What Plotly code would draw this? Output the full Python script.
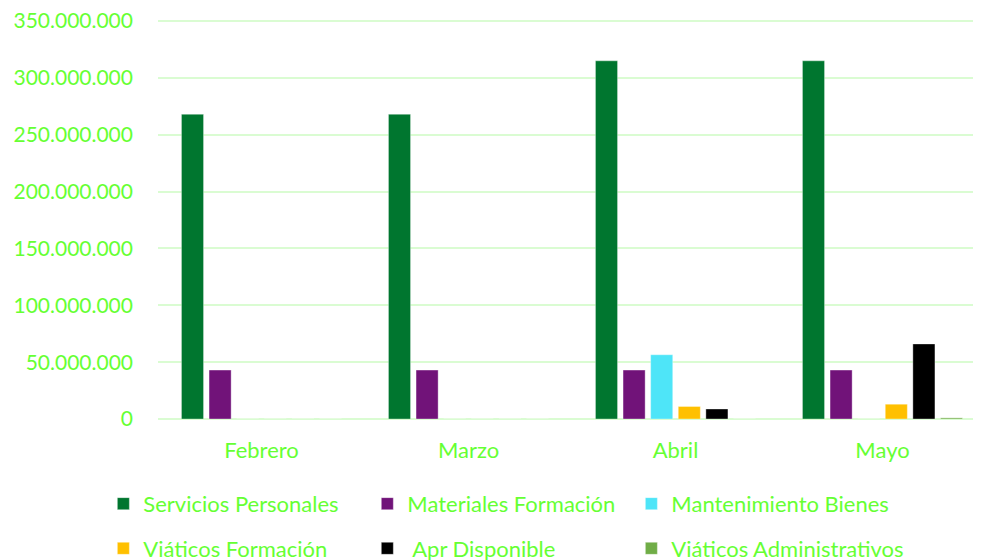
# Purpose: Grouped bar chart of monthly budget execution by category

# Imports

# Third party libraries
import plotly.graph_objects as go

# Globals

months = ["Febrero", "Marzo", "Abril", "Mayo"]

servicios_personales = [268000000, 268000000, 315000000, 315000000]
materiales_formacion = [43000000, 43000000, 43000000, 43000000]
mantenimiento_bienes = [0, 0, 56500000, 0]
viaticos_formacion = [0, 0, 11000000, 13000000]
apr_disponible = [0, 0, 8800000, 66000000]
viaticos_administrativos = [0, 0, 0, 1000000]

series_names = ["Servicios Personales", "Materiales Formación", "Mantenimiento Bienes",
				"Viáticos Formación", " Apr Disponible", "Viáticos Administrativos"]
series_values = [servicios_personales, materiales_formacion, mantenimiento_bienes,
				 viaticos_formacion, apr_disponible, viaticos_administrativos]
series_colors = ["#00762F", "#711379", "#4EE5F8", "#FFC000", "#000000", "#70AD47"]

y_ticks = [0, 50000000, 100000000, 150000000, 200000000, 250000000, 300000000, 350000000]

text_green = "#66FF33"
grid_green = "#DAFCD2"
font_family = "Lato, 'Open Sans', sans-serif"

# Legend grid: three columns, two rows (paper coordinates)
legend_cols = [-0.066, 0.2528, 0.5717]
legend_rows = [-0.16, -0.272]


def main():

	# 1. Create the figure with one bar trace per series, each in its own legend box
	fig = go.Figure()
	legends = {}
	for i, (name, values, color) in enumerate(zip(series_names, series_values, series_colors)):
		legend_id = "legend" if i == 0 else "legend" + str(i + 1)
		fig.add_trace(go.Bar(
			x=months, y=values, name=name, showlegend=True,
			marker=dict(color=color, line=dict(color="rgba(255,255,255,0.35)", width=1)),
			legend=legend_id,
		))
		legends[legend_id] = dict(
			orientation="h", xanchor="left", yanchor="top",
			x=legend_cols[i % 3], y=legend_rows[i // 3],
			font=dict(family=font_family, size=22, color=text_green),
			bgcolor="rgba(0,0,0,0)",
		)

	# 2. Layout (the page body adds an 8px offset, so margins are shifted by it)
	fig.update_layout(
		width=981, height=560,
		margin=dict(l=150, r=3, t=12, b=149, autoexpand=False),
		plot_bgcolor="white", paper_bgcolor="white",
		showlegend=True,
		barmode="group", bargap=0.2, bargroupgap=0.2,
		separators=",.",
		font=dict(family=font_family, size=21, color=text_green),
		xaxis=dict(showgrid=False, showline=False, ticks="", automargin=False,
				   ticklabelstandoff=16,
				   tickfont=dict(size=22, color=text_green)),
		yaxis=dict(range=[0, 350900000], tickvals=y_ticks, tickformat=",d",
				   showgrid=True, gridcolor=grid_green, gridwidth=2,
				   zeroline=True, zerolinecolor=grid_green, zerolinewidth=2,
				   ticklabelstandoff=24, automargin=False, ticklabeloverflow="allow",
				   tickfont=dict(size=21, color=text_green)),
		**legends,
	)

	# 3. Write the plot
	fig.write_html("out.html")

if "__main__" == __name__:
	main()
